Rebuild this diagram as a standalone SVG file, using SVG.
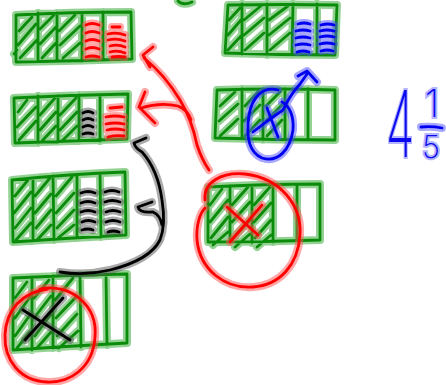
<svg xmlns="http://www.w3.org/2000/svg" xmlns:xlink="http://www.w3.org/1999/xlink" width="446" height="385" viewBox="0 0 446 385">
<style>
path{fill:none;stroke-linecap:round;stroke-linejoin:round}
.h{stroke-width:8;opacity:.5}
.c{stroke-width:2.8}
.gh{stroke:#2aa52a}.gc{stroke:#0a8c0a}
.rh{stroke:#ff5050}.rc{stroke:#ff0000}
.bh{stroke:#5050ff}.bc{stroke:#0000f0}
.kh{stroke:#555}.kc{stroke:#000}
.num{font-family:Inter,"DejaVu Sans",sans-serif;font-weight:200;fill:#0a0aee;stroke:#6a6aff;stroke-width:4;stroke-opacity:.5;paint-order:stroke}
</style>
<defs>
<g id="bar1-g"><path d="M16 15 Q70 12 131 12 L132 59 Q75 61 16 62 Z M14 54 L17 50 M38 13 L38 61 M57 13 L57 61 M82 13 L82 61 M103 12 L103 60 M19 31 L32 17 M18 45 L36 24 M20 58 L37 40 M40 29 L54 15 M40 44 L56 27 M42 58 L56 43 M59 31 L75 15 M60 45 L80 26 M63 58 L80 43"/></g>
<g id="bar1-r"><path d="M86 25 Q92 22 99 25 M86 33 Q92 30 99 33 M86 41 Q92 38 99 41 M86 49 Q92 46 99 49 M86 57 Q92 55 99 57 M112 27 L120 27 M108 34 Q117 32 125 35 M108 40 Q117 38 125 41 M110 46 Q118 44 125 47 M110 52 Q118 50 125 53 M112 57 Q118 56 125 57"/></g>
<g id="bar2-g"><path d="M14 98 Q70 95 128 94 L127 139 Q70 141 15 143 Z M38 96 L38 143 M58 96 L58 142 M79 95 L79 141 M100 95 L100 141 M18 112 L27 100 M17 127 L36 107 M19 140 L36 121 M40 115 L55 98 M40 130 L56 112 M42 141 L56 126 M60 115 L76 98 M60 130 L77 112 M62 141 L77 126"/></g>
<g id="bar2-k"><path d="M83 113 Q88 110 93 113 M83 120 Q88 117 93 120 M83 127 Q88 124 93 127 M83 134 Q88 132 93 134"/></g>
<g id="bar2-r"><path d="M110 108 L122 107 M106 117 Q115 115 124 117 M106 124 Q115 122 124 124 M107 130 Q115 128 124 130 M108 137 Q116 135 124 136"/></g>
<g id="bar3-g"><path d="M12 180 Q70 174 125 172 L126 235 Q70 238 13 242 Z M33 178 L33 241 M53 176 L54 240 M77 175 L77 238 M100 174 L101 237 M15 196 L28 180 M14 213 L31 192 M15 228 L31 208 M16 240 L31 223 M35 196 L50 178 M35 213 L51 194 M36 228 L51 210 M37 240 L51 225 M56 196 L72 177 M56 213 L74 193 M57 228 L74 210 M58 238 L74 225"/></g>
<g id="bar3-k"><path d="M81 193 Q88 190 95 193 M81 203 Q88 200 95 203 M81 212 Q88 209 95 212 M82 222 Q88 219 95 222 M82 230 Q88 228 93 230 M105 192 Q112 189 119 192 M105 202 Q112 199 120 202 M106 212 Q113 209 120 212 M106 222 Q113 219 120 222 M108 232 Q113 230 119 232"/></g>
<g id="bar4-g"><path d="M13 278 Q70 275 127 274 L127 343 Q70 346 13 350 Z M32 277 L32 350 M53 276 L53 348 M80 275 L81 347 M106 274 L107 345 M15 298 L27 282 M15 318 L30 297 M15 336 L30 315 M17 348 L30 332 M34 298 L49 280 M34 318 L51 296 M35 336 L51 314 M37 348 L51 332 M55 300 L73 278 M56 318 L77 296 M57 336 L77 314 M59 348 L78 331"/></g>
<g id="bar4-k"><path d="M23 310 L70 340 M25 340 L63 298"/></g>
<g id="bar4-r"><path d="M40 289 C70 283 98 305 95 337 C93 368 70 383 47 382 C20 381 4 360 5 335 C6 310 22 292 48 289"/></g>
<g id="barA-g"><path d="M228 5 Q285 4 337 5 L335 55 Q280 55 225 53 Z M242 4 L242 54 M267 4 L267 55 M293 4 L292 55 M317 4 L317 55 M229 20 L240 8 M228 35 L241 20 M228 50 L241 36 M244 20 L262 5 M244 35 L264 18 M245 50 L264 33 M269 20 L288 6 M269 35 L290 18 M270 50 L290 33"/></g>
<g id="barA-b"><path d="M298 24 Q304 22 310 24 M296 31 Q303 29 310 31 M296 38 Q303 36 310 38 M296 45 Q303 43 310 45 M297 52 Q303 50 309 52 M321 25 Q328 23 334 25 M320 31 Q327 29 334 31 M320 37 Q327 35 334 37 M320 44 Q327 42 334 44 M321 51 Q327 49 333 51"/></g>
<g id="barB-g"><path d="M217 90 Q275 88 335 90 L335 140 Q275 140 215 138 Z M242 89 L242 139 M263 89 L263 140 M285 89 L285 140 M308 89 L308 140 M220 106 L235 92 M219 121 L238 104 M220 136 L238 119 M245 106 L259 91 M244 121 L260 105 M245 136 L260 120 M266 106 L281 91 M266 121 L282 105 M267 136 L282 120"/></g>
<g id="barB-b"><path d="M278 90 C262 86 252 98 249 115 C246 135 248 152 262 158 C278 163 290 150 293 130 C294 117 290 106 282 102 M267 108 L278 137 M253 132 Q268 120 283 110 Q290 95 300 84 L307 74 M298 76 L307 71 L317 82"/></g>
<g id="bar6-g"><path d="M208 187 Q265 184 320 184 L320 240 Q265 242 208 242 Z M230 186 L230 242 M252 186 L252 243 M273 185 L273 242 M297 185 L297 241 M210 205 L222 189 M210 222 L228 200 M211 238 L228 217 M213 245 L228 232 M232 205 L248 187 M232 222 L250 202 M233 238 L250 220 M235 247 L250 234 M254 205 L270 187 M254 222 L271 203 M255 238 L271 220 M257 247 L271 235"/></g>
<g id="bar6-r"><path d="M227 207 L258 235 M230 242 L262 205 M205 200 C203 182 222 172 245 174 C280 178 302 205 300 235 C298 265 280 285 253 287 C225 289 200 270 197 240 C196 225 200 213 205 208"/></g>
<g id="conn-r"><path d="M153 47 L143 55 L150 67 M144 58 Q165 75 180 100 Q192 120 197 145 Q202 160 209 170 M145 92 L139 107 L155 123 M141 108 Q160 102 178 106 Q188 110 191 120"/></g>
<g id="conn-k"><path d="M146 138 L134 143 Q135 148 142 152 Q158 170 162 200 Q166 225 160 240 Q150 260 110 270 Q85 276 60 272 M152 202 L138 207 Q139 213 153 212 Q160 215 162 225"/></g>
<g id="mark-g"><path d="M178 1 Q183 6 192 2"/></g>
<g id="frac-b"><path d="M421 127 Q432 126 442 128"/></g>
</defs>

<g id="mark"><use xlink:href="#mark-g" class="h gh"/><use xlink:href="#mark-g" class="c gc"/></g>
<g id="bar1"><use xlink:href="#bar1-g" class="h gh"/><use xlink:href="#bar1-g" class="c gc"/><use xlink:href="#bar1-r" class="h rh"/><use xlink:href="#bar1-r" class="c rc"/></g>
<g id="bar2"><use xlink:href="#bar2-g" class="h gh"/><use xlink:href="#bar2-g" class="c gc"/><use xlink:href="#bar2-k" class="h kh"/><use xlink:href="#bar2-k" class="c kc"/><use xlink:href="#bar2-r" class="h rh"/><use xlink:href="#bar2-r" class="c rc"/></g>
<g id="bar3"><use xlink:href="#bar3-g" class="h gh"/><use xlink:href="#bar3-g" class="c gc"/><use xlink:href="#bar3-k" class="h kh"/><use xlink:href="#bar3-k" class="c kc"/></g>
<g id="bar4"><use xlink:href="#bar4-g" class="h gh"/><use xlink:href="#bar4-g" class="c gc"/><use xlink:href="#bar4-k" class="h kh"/><use xlink:href="#bar4-k" class="c kc"/><use xlink:href="#bar4-r" class="h rh"/><use xlink:href="#bar4-r" class="c rc"/></g>
<g id="barA"><use xlink:href="#barA-g" class="h gh"/><use xlink:href="#barA-g" class="c gc"/><use xlink:href="#barA-b" class="h bh"/><use xlink:href="#barA-b" class="c bc"/></g>
<g id="barB"><use xlink:href="#barB-g" class="h gh"/><use xlink:href="#barB-g" class="c gc"/><use xlink:href="#barB-b" class="h bh"/><use xlink:href="#barB-b" class="c bc"/></g>
<g id="bar6"><use xlink:href="#bar6-g" class="h gh"/><use xlink:href="#bar6-g" class="c gc"/><use xlink:href="#bar6-r" class="h rh"/><use xlink:href="#bar6-r" class="c rc"/></g>
<g id="connectors"><use xlink:href="#conn-r" class="h rh"/><use xlink:href="#conn-r" class="c rc"/><use xlink:href="#conn-k" class="h kh"/><use xlink:href="#conn-k" class="c kc"/></g>
<g id="fraction">
<text class="num" transform="translate(386 157) scale(0.5 1)" font-size="92">4</text>
<text class="num" x="432" y="117" font-size="38" text-anchor="middle">1</text>
<text class="num" x="431" y="158" font-size="31" text-anchor="middle">5</text>
<use xlink:href="#frac-b" class="h bh"/><use xlink:href="#frac-b" class="c bc"/>
</g>
</svg>
